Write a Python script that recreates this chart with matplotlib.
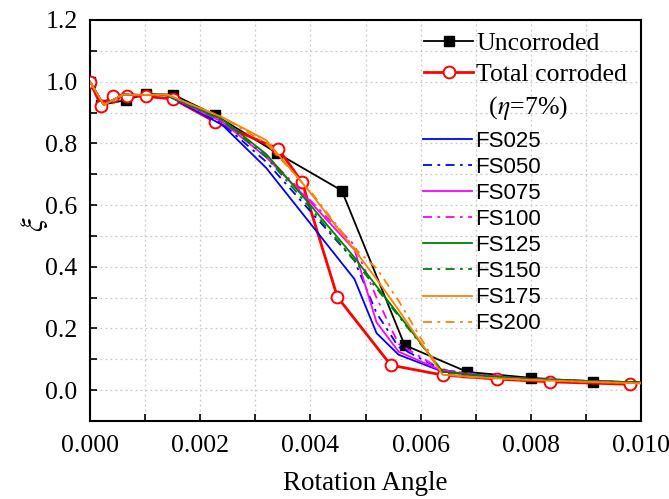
import matplotlib
matplotlib.use("Agg")
import matplotlib.pyplot as plt
from matplotlib.lines import Line2D
from matplotlib.ticker import MultipleLocator, FormatStrFormatter

plt.rcParams['font.family'] = ['Liberation Serif', 'DejaVu Serif']
plt.rcParams['mathtext.fontset'] = 'stix'

# ---------------- data ----------------
unc_x = [0, 0.0002, 0.00065, 0.00101, 0.00151, 0.00227, 0.0034, 0.00457, 0.00571, 0.00685, 0.0080, 0.00913]
unc_y = [1.0, 0.925, 0.940, 0.960, 0.958, 0.892, 0.768, 0.647, 0.146, 0.059, 0.040, 0.027]

cor_x = [0, 0.0002, 0.00042, 0.00067, 0.00101, 0.00151, 0.00227, 0.00342, 0.00385, 0.00449, 0.00546, 0.0064, 0.00739, 0.00835, 0.0098]
cor_y = [1.0, 0.922, 0.955, 0.955, 0.952, 0.944, 0.870, 0.782, 0.674, 0.302, 0.081, 0.049, 0.036, 0.027, 0.019]

fs_x = [0, 0.00025, 0.0006, 0.001, 0.0014, 0.0024, 0.0032, 0.0040, 0.0048, 0.0052, 0.0056, 0.0064, 0.0072, 0.0080, 0.0090, 0.0100]
fs025 = [1.0, 0.925, 0.958, 0.957, 0.956, 0.860, 0.720, 0.540, 0.360, 0.185, 0.115, 0.060, 0.045, 0.036, 0.030, 0.025]
fs050 = [1.0, 0.925, 0.958, 0.957, 0.956, 0.865, 0.740, 0.580, 0.420, 0.250, 0.140, 0.065, 0.048, 0.037, 0.030, 0.025]
fs075 = [1.0, 0.925, 0.958, 0.957, 0.956, 0.870, 0.755, 0.610, 0.455, 0.220, 0.125, 0.062, 0.046, 0.036, 0.030, 0.025]
fs100 = [1.0, 0.925, 0.958, 0.957, 0.956, 0.872, 0.760, 0.615, 0.470, 0.300, 0.150, 0.065, 0.047, 0.036, 0.030, 0.025]
fs125 = [1.0, 0.925, 0.958, 0.957, 0.956, 0.878, 0.765, 0.600, 0.430, 0.337, 0.245, 0.060, 0.045, 0.036, 0.030, 0.025]
fs150 = [1.0, 0.925, 0.958, 0.957, 0.956, 0.875, 0.755, 0.590, 0.420, 0.330, 0.240, 0.060, 0.045, 0.036, 0.030, 0.025]
fs175 = [1.0, 0.925, 0.958, 0.957, 0.958, 0.885, 0.810, 0.640, 0.455, 0.360, 0.260, 0.050, 0.040, 0.033, 0.027, 0.022]
fs200 = [1.0, 0.925, 0.958, 0.957, 0.958, 0.885, 0.800, 0.645, 0.460, 0.395, 0.290, 0.050, 0.040, 0.033, 0.027, 0.022]

fs_labels = ['FS025', 'FS050', 'FS075', 'FS100', 'FS125', 'FS150', 'FS175', 'FS200']
fs_series = [fs025, fs050, fs075, fs100, fs125, fs150, fs175, fs200]
fs_colors = ['#0000FF', '#0000FF', '#FF00FF', '#FF00FF', '#008000', '#008000', '#FF8000', '#FF8000']
fs_dashed = [False, True, False, True, False, True, False, True]

# ---------------- figure ----------------
fig = plt.figure(figsize=(6.69, 4.99), dpi=100)
ax = fig.add_axes([90/669, (499-421)/499, (641-90)/669, (421-20)/499])

dash_pat = (5, 3, 1.5, 3)
h_unc, = ax.plot(unc_x, unc_y, color='black', lw=1.3, marker='s', ms=6.5,
                 mfc='black', mec='black', zorder=3, label='Uncorroded')
h_cor, = ax.plot(cor_x, cor_y, color='#FF0000', lw=2.0, marker='o', ms=8.5,
                 mfc='white', mec='#FF0000', mew=1.4, zorder=4, label='Total corroded')
fs_handles = []
for ys, lab, col, dsh in zip(fs_series, fs_labels, fs_colors, fs_dashed):
    if dsh:
        h, = ax.plot(fs_x, ys, color=col, lw=1.3, dashes=dash_pat, zorder=5, label=lab)
    else:
        h, = ax.plot(fs_x, ys, color=col, lw=1.3, zorder=5, label=lab)
    fs_handles.append(h)

blank = Line2D([], [], color='none')

ax.set_xlim(0, 0.010)
ax.set_ylim(-0.1, 1.2)
ax.xaxis.set_major_locator(MultipleLocator(0.002))
ax.xaxis.set_minor_locator(MultipleLocator(0.001))
ax.yaxis.set_major_locator(MultipleLocator(0.2))
ax.yaxis.set_minor_locator(MultipleLocator(0.1))
ax.xaxis.set_major_formatter(FormatStrFormatter('%.3f'))
ax.yaxis.set_major_formatter(FormatStrFormatter('%.1f'))

ax.grid(True, which='both', color='#c8c8c8', linestyle=(0, (1.5, 2.5)), lw=0.9)
ax.set_axisbelow(True)

ax.tick_params(which='both', direction='in', width=1.2, labelsize=18.5)
ax.tick_params(axis='x', which='both', pad=10)
ax.tick_params(axis='y', which='both', pad=9)
ax.tick_params(which='major', length=5)
ax.tick_params(which='minor', length=5)
for sp in ax.spines.values():
    sp.set_linewidth(1.5)

ax.set_xlabel('Rotation Angle', fontsize=19.5, labelpad=10)
ax.set_ylabel(r'$\xi$', fontsize=22)
ax.yaxis.set_label_coords(-0.072, 0.49)

# legend part 1 (serif)
leg1 = ax.legend([h_unc, h_cor, blank],
                 ['Uncorroded', 'Total corroded', r'  ($\eta$=7%)'],
                 loc='upper left', bbox_to_anchor=(0.595, 0.985),
                 frameon=False, fontsize=18.5,
                 handlelength=1.9, handletextpad=0.12, labelspacing=0.3,
                 borderaxespad=0.0, borderpad=0.25)
ax.add_artist(leg1)

# legend part 2 (sans)
leg2 = ax.legend(fs_handles, fs_labels,
                 loc='upper left', bbox_to_anchor=(0.595, 0.738),
                 frameon=False,
                 prop={'family': ['Liberation Sans', 'DejaVu Sans'], 'size': 16},
                 handlelength=2.2, handletextpad=0.12, labelspacing=0.23,
                 borderaxespad=0.0, borderpad=0.25)

fig.savefig('out.png', dpi=100)
